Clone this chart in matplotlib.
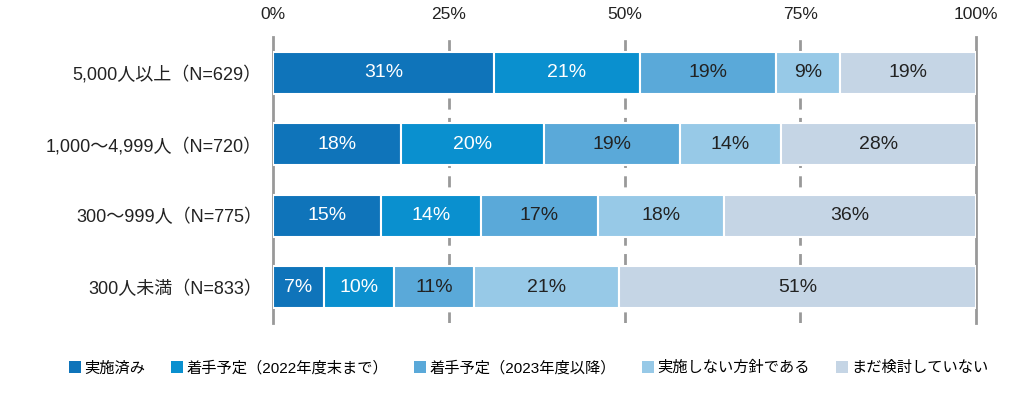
import matplotlib
matplotlib.use("Agg")
import matplotlib.pyplot as plt
from matplotlib.patches import Patch
import numpy as np

plt.rcParams['font.family'] = ['Liberation Sans', 'Noto Sans CJK JP', 'DejaVu Sans']

# data
groups = ["5,000人以上（N=629）", "1,000～4,999人（N=720）", "300～999人（N=775）", "300人未満（N=833）"]
series = ["実施済み", "着手予定（2022年度末まで）", "着手予定（2023年度以降）", "実施しない方針である", "まだ検討していない"]
done = [31.4, 18.2, 15.4, 7.2]
plan_2022 = [20.8, 20.3, 14.2, 10.0]
plan_2023 = [19.4, 19.4, 16.6, 11.4]
no_plan = [9.0, 14.3, 18.0, 20.6]
undecided = [19.4, 27.8, 35.8, 50.8]
xticks = [0, 25, 50, 75, 100]
xtick_labels = ["0%", "25%", "50%", "75%", "100%"]

colors = ["#0f74ba", "#0a90cf", "#5aa9d9", "#97c9e7", "#c5d5e5"]
text_colors = ["white", "white", "#222222", "#222222", "#222222"]

fig = plt.figure(figsize=(10.3, 3.94), dpi=100)
ax = fig.add_axes([273 / 1030, 1 - 323 / 394, (976 - 273) / 1030, (323 - 37) / 394])

y = np.arange(len(groups))
left = np.zeros(len(groups))
for i, vals in enumerate([done, plan_2022, plan_2023, no_plan, undecided]):
    vals = np.array(vals)
    ax.barh(y, vals, left=left, height=0.585, color=colors[i],
            edgecolor="white", linewidth=1.5, zorder=3)
    for yy, l, v in zip(y, left, vals):
        ax.text(l + v / 2, yy, "%d%%" % round(v), ha="center", va="center",
                fontsize=14, color=text_colors[i], zorder=4)
    left += vals

for xv in xticks[1:-1]:
    ax.axvline(xv, color="#999999", linestyle=(0, (4, 3)), linewidth=2, zorder=1)

ax.set_xlim(0, 100)
ax.set_ylim(3.5, -0.5)
ax.set_yticks(y)
ax.set_yticklabels(groups, fontsize=13, color="#222222")
ax.xaxis.tick_top()
ax.set_xticks(xticks)
ax.set_xticklabels(xtick_labels, fontsize=12.5, color="#222222")
ax.tick_params(axis="both", length=0)
ax.tick_params(axis="x", pad=11)
ax.tick_params(axis="y", pad=8)

for s in ["top", "bottom"]:
    ax.spines[s].set_visible(False)
for s in ["left", "right"]:
    ax.spines[s].set_color("#999999")
    ax.spines[s].set_linewidth(2)

handles = [Patch(facecolor=c, edgecolor="none") for c in colors]
fig.legend(handles, series, loc="center", bbox_to_anchor=(0.513, 1 - 368 / 394),
           ncol=5, frameon=False, fontsize=11, handlelength=0.8, handleheight=0.8,
           handletextpad=0.2, columnspacing=1.7)

fig.savefig("out.png", dpi=100)
